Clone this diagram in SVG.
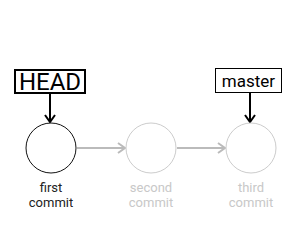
<svg xmlns="http://www.w3.org/2000/svg" width="303" height="228" viewBox="0 0 303 228">
<style>
text{font-family:Roboto,"Liberation Sans",sans-serif;text-anchor:middle}
.lbl{font-size:13px}
.cur{fill:#222}
.fut{fill:#c8c8c8}
.c-cur{fill:#fff;stroke:#111;stroke-width:1}
.c-fut{fill:#fff;stroke:#ccc;stroke-width:1}
.edge{stroke:#bbb;stroke-width:2;fill:none}
.ref{stroke:#000;stroke-width:2;fill:none}
</style>
<defs>
<marker id="ag" markerWidth="12" markerHeight="12" refX="9" refY="6" orient="auto" markerUnits="userSpaceOnUse">
<path d="M2,1 L9,6 L2,11" fill="none" stroke="#bbb" stroke-width="2"/>
</marker>
<marker id="ab" markerWidth="14" markerHeight="12" refX="10" refY="6" orient="auto" markerUnits="userSpaceOnUse">
<path d="M3,1 L10,6 L3,11" fill="none" stroke="#000" stroke-width="2"/>
</marker>
</defs>
<g id="connectors">
<line class="edge" x1="77" y1="148" x2="125" y2="148" marker-end="url(#ag)"/>
<line class="edge" x1="177" y1="148" x2="225" y2="148" marker-end="url(#ag)"/>
<line class="ref" x1="50" y1="94" x2="50" y2="122" marker-end="url(#ab)"/>
<line class="ref" x1="250" y1="93" x2="250" y2="122" marker-end="url(#ab)"/>
</g>
<g id="first">
<circle class="c-cur" cx="51" cy="148" r="25"/>
<text class="lbl cur" x="51" y="192">first</text>
<text class="lbl cur" x="51" y="207">commit</text>
</g>
<g id="second">
<circle class="c-fut" cx="151" cy="148" r="25"/>
<text class="lbl fut" x="151" y="192">second</text>
<text class="lbl fut" x="151" y="207">commit</text>
</g>
<g id="third">
<circle class="c-fut" cx="251" cy="148" r="25"/>
<text class="lbl fut" x="251" y="192">third</text>
<text class="lbl fut" x="251" y="207">commit</text>
</g>
<g id="HEAD">
<rect x="15" y="70" width="70" height="23" fill="#fff" stroke="#000" stroke-width="2"/>
<text x="50" y="90" font-size="24" fill="#000">HEAD</text>
</g>
<g id="master">
<rect x="215.5" y="68.5" width="66" height="24" fill="#fff" stroke="#000" stroke-width="1"/>
<text x="248.5" y="87" font-size="17" fill="#000">master</text>
</g>
</svg>
